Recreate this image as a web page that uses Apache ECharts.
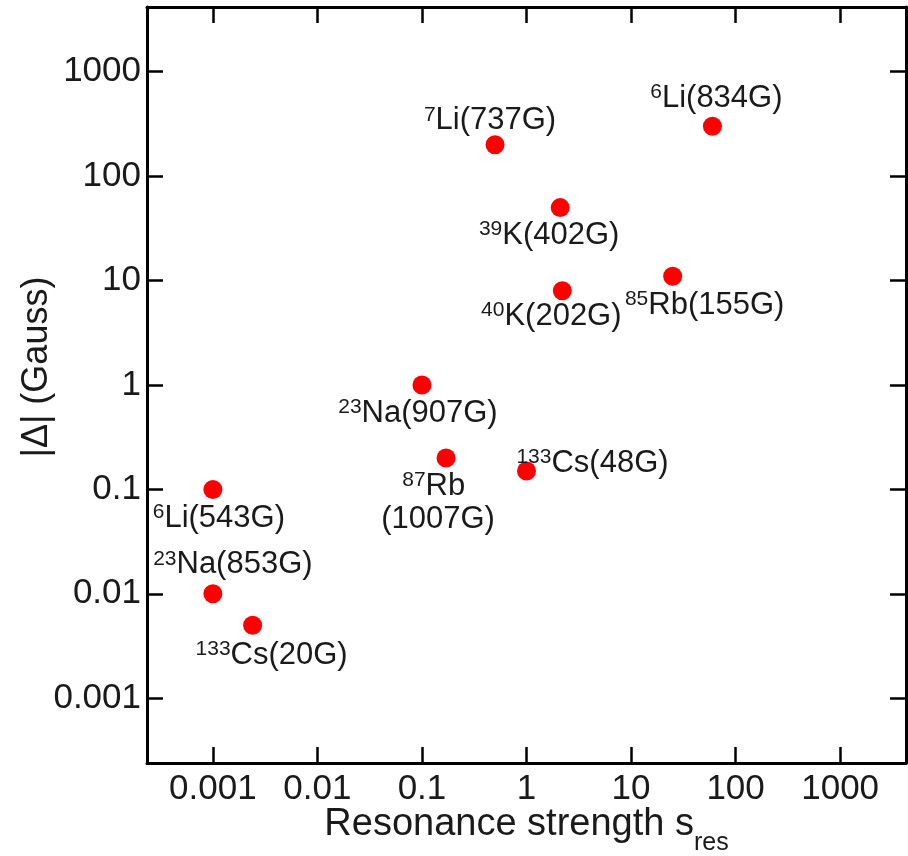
<!DOCTYPE html>
<html><head><meta charset="utf-8">
<script src="https://cdn.jsdelivr.net/npm/echarts@6/dist/echarts.min.js"></script>
<style>html,body{margin:0;padding:0;background:#fff}#c{width:908px;height:856px}</style>
</head><body><div id="c"></div>
<script>
// ---- data ----
const massNumbers = ['6', '7', '39', '40', '85', '23', '87', '133', '6', '23', '133'];
const elements    = ['Li', 'Li', 'K', 'K', 'Rb', 'Na', 'Rb', 'Cs', 'Li', 'Na', 'Cs'];
const fieldsG     = ['834', '737', '402', '202', '155', '907', '1007', '48', '543', '853', '20'];
const strength    = [60, 0.5, 2.1, 2.2, 25, 0.1, 0.17, 1.0, 0.001, 0.001, 0.0024];
const delta       = [300, 200, 50, 8, 11, 1, 0.2, 0.15, 0.1, 0.01, 0.005];
const xTickLabels = ['0.001', '0.01', '0.1', '1', '10', '100', '1000'];
const yTickLabels = ['0.001', '0.01', '0.1', '1', '10', '100', '1000'];

// ---- layout (label placement relative to each point) ----
const labelOffsets = [[4,-28],[-5,-24],[-11,28],[-11,26],[32,29],[-4,28],[-8,45],[66,-8],[6,29],[20,-29],[19,30]];
const labelBreak   = [false,false,false,false,false,false,true,false,false,false,false];

const FONT = "'Liberation Sans', Arial, Helvetica, sans-serif";
const TXT = '#1a1a1a';
const xMin = Math.pow(10, -3.63), xMax = Math.pow(10, 3.63);
const yMin = Math.pow(10, -3.62), yMax = Math.pow(10, 3.62);

function tickFmt(arr) {
  return function (v) {
    const k = Math.round(Math.log10(v)) + 3;
    return (k >= 0 && k < arr.length) ? arr[k] : '';
  };
}

const axisLine = { show: true, onZero: false, lineStyle: { color: '#000', width: 3 } };
const axisTick = { show: true, inside: true, length: 16, lineStyle: { color: '#000', width: 2.5 } };

const chart = echarts.init(document.getElementById('c'), null, { renderer: 'canvas' });
chart.setOption({
  animation: false,
  backgroundColor: '#fff',
  grid: { left: 147, right: 2, top: 7, bottom: 93, containLabel: false, outerBoundsMode: 'none' },
  xAxis: [{
    type: 'log', logBase: 10, min: xMin, max: xMax, position: 'bottom',
    axisLine, axisTick, splitLine: { show: false }, minorTick: { show: false },
    axisLabel: { show: true, margin: 9, fontSize: 35, color: TXT, fontFamily: FONT,
      showMinLabel: false, showMaxLabel: false, formatter: tickFmt(xTickLabels) },
    name: '{m|Resonance strength s}{b|res}', nameLocation: 'middle', nameGap: 31, nameMoveOverlap: false,
    nameTextStyle: { color: TXT, fontFamily: FONT, rich: {
      m: { fontSize: 38, color: TXT, fontFamily: FONT },
      b: { fontSize: 25, color: TXT, fontFamily: FONT, verticalAlign: 'top', padding: [37, 0, 0, 0] }
    } }
  }, {
    type: 'log', logBase: 10, min: xMin, max: xMax, position: 'top',
    axisLine, axisTick, splitLine: { show: false }, axisLabel: { show: false }
  }],
  yAxis: [{
    type: 'log', logBase: 10, min: yMin, max: yMax, position: 'left',
    axisLine, axisTick, splitLine: { show: false }, minorTick: { show: false },
    axisLabel: { show: true, margin: 6, fontSize: 35, color: TXT, fontFamily: FONT,
      showMinLabel: false, showMaxLabel: false, formatter: tickFmt(yTickLabels) },
    name: '|\u0394| (Gauss)', nameLocation: 'middle', nameGap: 92, nameRotate: 90, nameMoveOverlap: false,
    nameTextStyle: { fontSize: 36, color: TXT, fontFamily: FONT, padding: [0, 0, 0, 36] }
  }, {
    type: 'log', logBase: 10, min: yMin, max: yMax, position: 'right',
    axisLine, axisTick, splitLine: { show: false }, axisLabel: { show: false }
  }],
  series: [{
    type: 'scatter',
    xAxisIndex: 0, yAxisIndex: 0,
    symbol: 'circle', symbolSize: 19,
    itemStyle: { color: '#ff0000', opacity: 1 },
    label: {
      show: true, position: 'inside', align: 'center', verticalAlign: 'middle',
      color: TXT, fontFamily: FONT,
      formatter: function (p) {
        const i = p.dataIndex;
        const sep = labelBreak[i] ? ' \n' : '';
        return '{s|' + massNumbers[i] + '}{t|' + elements[i] + sep + '}' + '{t|(' + fieldsG[i] + 'G)}';
      },
      rich: {
        s: { fontSize: 21, color: TXT, fontFamily: FONT, verticalAlign: 'top' },
        t: { fontSize: 31, color: TXT, fontFamily: FONT, lineHeight: 33 }
      }
    },
    emphasis: { disabled: true },
    data: strength.map(function (s, i) {
      return { value: [s, delta[i]], label: { offset: labelOffsets[i] } };
    })
  }]
});
</script>
</body></html>
